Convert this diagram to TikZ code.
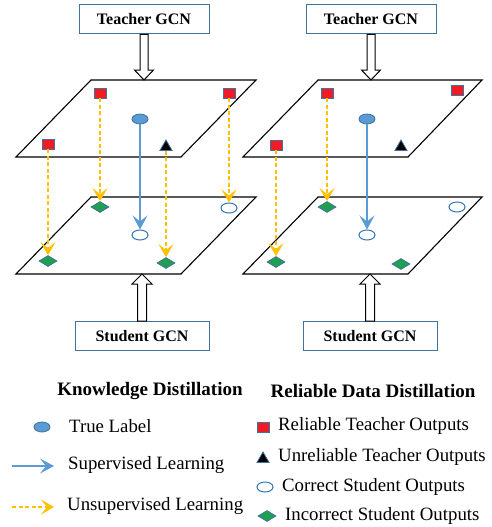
\documentclass[tikz,border=0pt]{standalone}
\usepackage{fontspec}
\setmainfont{Liberation Serif}[BoldFont={Liberation Serif Bold},ItalicFont={Liberation Serif Italic}]
\usetikzlibrary{shapes.geometric,arrows.meta,calc}
\definecolor{boxblue}{HTML}{41719C}
\definecolor{fillblue}{HTML}{5B9BD5}
\definecolor{outblue}{HTML}{2E75B6}
\definecolor{arrowyellow}{HTML}{FFC000}
\definecolor{markred}{HTML}{EE1C25}
\definecolor{markgreen}{HTML}{1FA050}
\begin{document}
\begin{tikzpicture}[x=1pt,y=-1pt,
  gcnbox/.style={draw=boxblue, line width=1pt, minimum height=29pt, inner sep=0pt,
    font=\fontsize{16}{19}\selectfont\bfseries},
  plane/.style={draw=black, line width=1.1pt, line join=miter},
  hollow/.style={draw=black, fill=white, line width=1pt, line join=miter},
  reliable/.style={rectangle, draw=boxblue, fill=markred, minimum width=12pt, minimum height=10pt, inner sep=0pt, line width=0.8pt},
  truelabel/.style={ellipse, draw=boxblue, fill=fillblue, minimum width=16pt, minimum height=10pt, inner sep=0pt, line width=0.8pt},
  unreliable/.style={regular polygon, regular polygon sides=3, draw=boxblue, fill=black, minimum size=14pt, inner sep=0pt, line width=0.8pt},
  correct/.style={ellipse, draw=outblue, fill=white, minimum width=16pt, minimum height=10pt, inner sep=0pt, line width=1pt},
  incorrect/.style={diamond, aspect=1.7, draw=boxblue, fill=markgreen, minimum width=18pt, minimum height=11pt, inner sep=0pt, line width=0.8pt},
  sup/.style={draw=fillblue, line width=1.3pt, -{Stealth[length=14pt,width=15pt,inset=6pt]}},
  unsup/.style={draw=arrowyellow, line width=1.5pt, dash pattern=on 4pt off 2.5pt, -{Stealth[length=13pt,width=15pt,inset=6pt]}},
  legtitle/.style={font=\fontsize{19}{22}\selectfont\bfseries},
  legtext/.style={anchor=west, inner sep=0pt, font=\fontsize{18.8}{22}\selectfont}
]
\useasboundingbox (0,0) rectangle (492,527);

% ---------------- left panel ----------------
\node[gcnbox, minimum width=130pt] (t1) at (144,19.5) {Teacher GCN};
\node[gcnbox, minimum width=134pt] (s1) at (142,336) {Student GCN};
\coordinate (tp1) at (144,80);
\coordinate (bp1) at (142,274);
\draw[plane] (91,80) -- (256,80) -- (181,157) -- (16,157) -- cycle;
\draw[plane] (91,197) -- (256,197) -- (181,274) -- (16,274) -- cycle;
\draw[hollow] ($(t1.south)+(-4,0)$) -- ($(tp1)+(-4,-10)$) -- ($(tp1)+(-9.5,-10)$) -- (tp1)
  -- ($(tp1)+(9.5,-10)$) -- ($(tp1)+(4,-10)$) -- ($(t1.south)+(4,0)$) -- cycle;
\draw[hollow] ($(s1.north)+(-4.5,0)$) -- ($(bp1)+(-4.5,10)$) -- ($(bp1)+(-10,10)$) -- (bp1)
  -- ($(bp1)+(10,10)$) -- ($(bp1)+(4.5,10)$) -- ($(s1.north)+(4.5,0)$) -- cycle;

\node[reliable] (a1) at (100,93) {};
\node[reliable] (a2) at (229,93) {};
\node[reliable] (a3) at (48,144) {};
\node[truelabel] (a4) at (140,119) {};
\node[unreliable] (a5) at (166,147) {};
\node[incorrect] (b1) at (100,207) {};
\node[correct] (b2) at (229,208) {};
\node[correct] (b4) at (140,235) {};
\node[incorrect] (b3) at (48,261) {};
\node[incorrect] (b5) at (166,263) {};
\draw[unsup] (a1) -- (b1);
\draw[unsup] (a2) -- (b2);
\draw[unsup] (a3) -- (b3);
\draw[unsup] (a5) -- (b5);
\draw[sup] (a4) -- (b4);

% ---------------- right panel ----------------
\node[gcnbox, minimum width=130pt] (t2) at (371,19.5) {Teacher GCN};
\node[gcnbox, minimum width=134pt] (s2) at (370,336) {Student GCN};
\coordinate (tp2) at (371,80);
\coordinate (bp2) at (370,274);
\draw[plane] (318,80) -- (482,80) -- (408,157) -- (243,157) -- cycle;
\draw[plane] (318,197) -- (482,197) -- (408,274) -- (243,274) -- cycle;
\draw[hollow] ($(t2.south)+(-4,0)$) -- ($(tp2)+(-4,-10)$) -- ($(tp2)+(-9.5,-10)$) -- (tp2)
  -- ($(tp2)+(9.5,-10)$) -- ($(tp2)+(4,-10)$) -- ($(t2.south)+(4,0)$) -- cycle;
\draw[hollow] ($(s2.north)+(-4.5,0)$) -- ($(bp2)+(-4.5,10)$) -- ($(bp2)+(-10,10)$) -- (bp2)
  -- ($(bp2)+(10,10)$) -- ($(bp2)+(4.5,10)$) -- ($(s2.north)+(4.5,0)$) -- cycle;

\node[reliable] (c1) at (327,93) {};
\node[reliable] (c2) at (457,90) {};
\node[reliable] (c3) at (276,145) {};
\node[truelabel] (c4) at (367,119) {};
\node[unreliable] (c5) at (401,147) {};
\node[incorrect] (d1) at (327,207) {};
\node[correct] (d2) at (457,207) {};
\node[correct] (d4) at (367,235) {};
\node[incorrect] (d3) at (276,262) {};
\node[incorrect] (d5) at (401,264) {};
\draw[unsup] (c1) -- (d1);
\draw[unsup] (c3) -- (d3);
\draw[sup] (c4) -- (d4);

% ---------------- legend ----------------
\node[legtitle] (kd) at (150,391) {Knowledge Distillation};
\node[legtitle] (rdd) at (373,391) {Reliable Data Distillation};

\node[truelabel] (l1) at (42,427) {};
\node[legtext] (l1t) at (69,426) {True Label};
\coordinate (l2a) at (12,466);
\coordinate (l2b) at (54,466);
\draw[sup] (l2a) -- (l2b);
\node[legtext] (l2t) at (68,465) {Supervised Learning};
\coordinate (l3a) at (12,507);
\coordinate (l3b) at (54,507);
\draw[unsup] (l3a) -- (l3b);
\node[legtext] (l3t) at (67,506) {Unsupervised Learning};

\node[reliable] (r1) at (263,427) {};
\node[legtext] (r1t) at (278,426) {Reliable Teacher Outputs};
\node[unreliable] (r2) at (263,459) {};
\node[legtext] (r2t) at (278,457) {Unreliable Teacher Outputs};
\node[correct] (r3) at (265,487) {};
\node[legtext] (r3t) at (282,487) {Correct Student Outputs};
\node[incorrect] (r4) at (267,516) {};
\node[legtext] (r4t) at (285,516) {Incorrect Student Outputs};
\end{tikzpicture}
\end{document}
